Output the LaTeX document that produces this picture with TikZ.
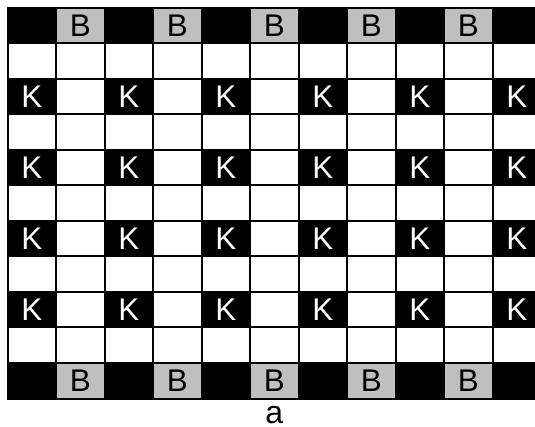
\documentclass[tikz,border=0pt]{standalone}
\usepackage{fontspec}
\setmainfont{Liberation Sans}
\begin{document}
\begin{tikzpicture}[x=0.75pt, y=-0.75pt,
  every node/.style={font=\fontsize{23.5}{28}\selectfont, inner sep=0pt, outer sep=0pt},
  cell/.style={draw=black, line width=1.5pt, minimum width=36.375pt, minimum height=26.625pt},
  blank/.style={cell, fill=white},
  dark/.style={cell, fill=black},
  kcell/.style={cell, fill=black, text=white},
  bcell/.style={cell, fill=black!25}]
  \useasboundingbox (0,0) rectangle (535,427);
  \clip (0,0) rectangle (535,427);
  % weisse Zeilen
  \foreach \r in {1,3,...,9}
    \foreach \c in {0,...,10}
      \node[blank] (c-\r-\c) at ({7.5+48.5*(\c+0.5)}, {8+35.5*(\r+0.5)}) {};
  % Zeilen mit K
  \foreach \r in {2,4,6,8} {
    \foreach \c in {0,2,...,10}
      \node[kcell] (c-\r-\c) at ({7.5+48.5*(\c+0.5)}, {8+35.5*(\r+0.5)}) {K};
    \foreach \c in {1,3,...,9}
      \node[blank] (c-\r-\c) at ({7.5+48.5*(\c+0.5)}, {8+35.5*(\r+0.5)}) {};
  }
  % Rand oben und unten
  \foreach \r in {0,10} {
    \foreach \c in {0,2,...,10}
      \node[dark] (c-\r-\c) at ({7.5+48.5*(\c+0.5)}, {8+35.5*(\r+0.5)}) {};
    \foreach \c in {1,3,...,9}
      \node[bcell] (c-\r-\c) at ({7.5+48.5*(\c+0.5)}, {8+35.5*(\r+0.5)}) {B};
  }
  % Beschriftung
  \node[font=\fontsize{24}{28}\selectfont] (caption) at (274.25,415) {a};
\end{tikzpicture}
\end{document}
